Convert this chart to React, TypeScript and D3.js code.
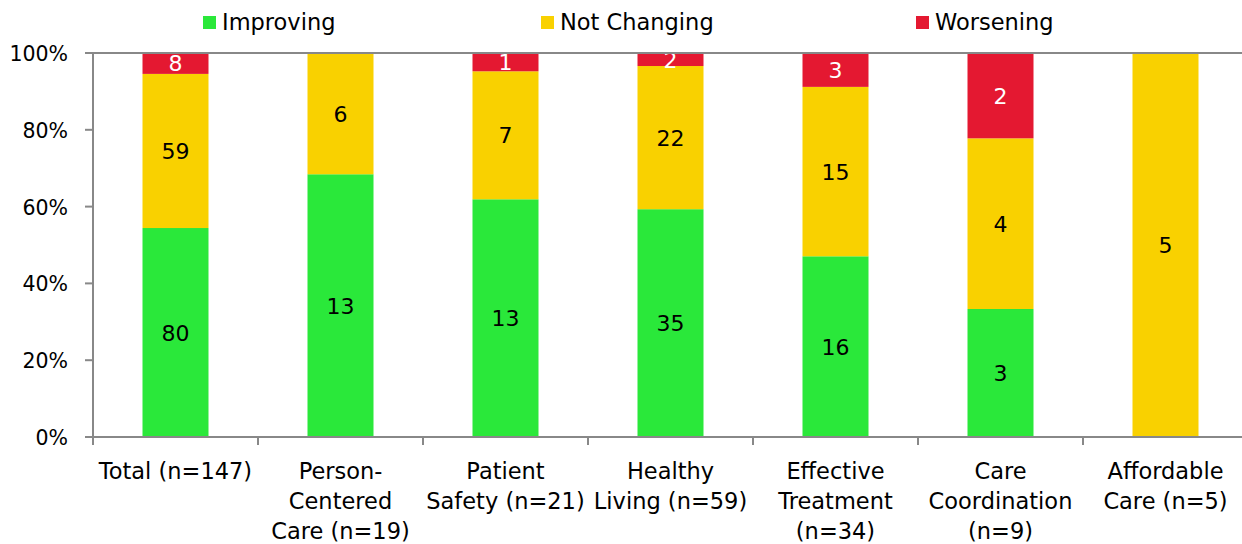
import * as d3 from "d3";

// categories (multi-line labels) and series counts
const categories = [
  ["Total (n=147)"],
  ["Person-", "Centered", "Care (n=19)"],
  ["Patient", "Safety (n=21)"],
  ["Healthy", "Living (n=59)"],
  ["Effective", "Treatment", "(n=34)"],
  ["Care", "Coordination", "(n=9)"],
  ["Affordable", "Care (n=5)"],
];
const improving = [80, 13, 13, 35, 16, 3, 0];
const notChanging = [59, 6, 7, 22, 15, 4, 5];
const worsening = [8, 0, 1, 2, 3, 2, 0];

const seriesNames = ["Improving", "Not Changing", "Worsening"];
const seriesColors = ["#2AE83A", "#F9D100", "#E41831"];
const labelColors = ["#000", "#000", "#fff"];
const yTicks = [0, 0.2, 0.4, 0.6, 0.8, 1];

const W = 1242;
const H = 544;
const margin = { top: 53, right: -6, bottom: 107, left: 93 };
const FONT = "'DejaVu Sans', sans-serif";

export default function App() {
  const keys = categories.map((_, i) => String(i));
  const rows = keys.map((k, i) => {
    const total = improving[i] + notChanging[i] + worsening[i];
    return { key: k, vals: [improving[i], notChanging[i], worsening[i]], total };
  });

  const x = d3
    .scaleBand<string>()
    .domain(keys)
    .range([margin.left, W - margin.right])
    .paddingInner(0.6)
    .paddingOuter(0.3);
  const step = x.step();

  const y = d3
    .scaleLinear()
    .domain([0, 1])
    .range([H - margin.bottom, margin.top]);

  const stack = d3
    .stack<{ vals: number[]; total: number }, number>()
    .keys([0, 1, 2])
    .value((d, k) => d.vals[k] / d.total);
  const stacked = stack(rows);

  const legendX = [203, 541, 916];

  return (
    <svg width={W} height={H} style={{ position: "absolute", left: 0, top: 0, fontFamily: FONT }}>
      <rect width={W} height={H} fill="#fff" />
      {/* legend */}
      {seriesNames.map((s, i) => (
        <g key={s} transform={`translate(${legendX[i]},0)`}>
          <rect x={0} y={16} width={13} height={13} fill={seriesColors[i]} />
          <text x={19} y={30} fontSize={22.5} fill="#000">
            {s}
          </text>
        </g>
      ))}

      {/* bars */}
      {stacked.map((layer, si) =>
        layer.map((seg, ci) => {
          const v = rows[ci].vals[si];
          if (!v) return null;
          const y0 = y(seg[0]);
          const y1 = y(seg[1]);
          return (
            <g key={`${si}-${ci}`}>
              <rect
                x={x(keys[ci])!}
                y={y1}
                width={x.bandwidth()}
                height={y0 - y1}
                fill={seriesColors[si]}
              />
              <text
                x={x(keys[ci])! + x.bandwidth() / 2}
                y={(y0 + y1) / 2 + 8}
                textAnchor="middle"
                fontSize={22}
                fill={labelColors[si]}
              >
                {v}
              </text>
            </g>
          );
        })
      )}

      {/* top line */}
      <line x1={margin.left} x2={W} y1={y(1)} y2={y(1)} stroke="#888" strokeWidth={2} />

      {/* y axis */}
      <line x1={margin.left} x2={margin.left} y1={y(1)} y2={y(0)} stroke="#888" strokeWidth={2} />
      {yTicks.map((t) => (
        <g key={t}>
          <line x1={margin.left - 8} x2={margin.left} y1={y(t)} y2={y(t)} stroke="#888" strokeWidth={2} />
          <text x={68} y={y(t) + 8} textAnchor="end" fontSize={20.5} fill="#000">
            {d3.format(".0%")(t)}
          </text>
        </g>
      ))}

      {/* x axis */}
      <line x1={margin.left} x2={W} y1={y(0)} y2={y(0)} stroke="#888" strokeWidth={2} />
      {d3.range(keys.length + 1).map((i) => {
        const xx = margin.left + i * step;
        return <line key={i} x1={xx} x2={xx} y1={y(0)} y2={y(0) + 8} stroke="#888" strokeWidth={2} />;
      })}
      {categories.map((lines, i) => (
        <text
          key={i}
          x={x(keys[i])! + x.bandwidth() / 2}
          textAnchor="middle"
          fontSize={22.5}
          fill="#000"
        >
          {lines.map((l, j) => (
            <tspan key={j} x={x(keys[i])! + x.bandwidth() / 2} y={479 + j * 30}>
              {l}
            </tspan>
          ))}
        </text>
      ))}
    </svg>
  );
}
